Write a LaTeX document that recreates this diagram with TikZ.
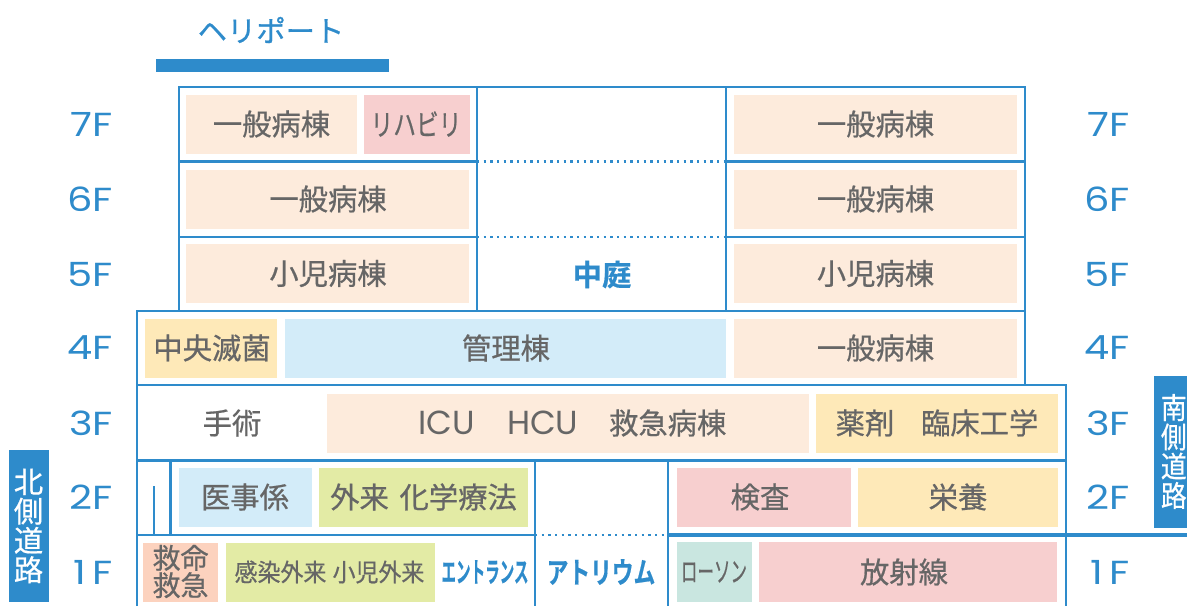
\documentclass[tikz,border=0pt]{standalone}
\usepackage{fontspec}
\usepackage{graphicx}
\setmainfont[FakeBold=0.6,BoldFont={Noto Sans CJK JP Bold}]{Noto Sans CJK JP}
\newfontfamily\latinf{Poppins}
\definecolor{line}{HTML}{2E8BCB}
\definecolor{ink}{HTML}{666666}
\definecolor{peach}{HTML}{FDEBDC}
\definecolor{pinkr}{HTML}{F7CFCF}
\definecolor{yellowr}{HTML}{FEE9B8}
\definecolor{bluer}{HTML}{D3ECF9}
\definecolor{greenr}{HTML}{E3EBA5}
\definecolor{oranger}{HTML}{FCD2BE}
\definecolor{tealr}{HTML}{C9E6E0}
\tikzset{
  wall/.style={draw=line,line width=1.75pt},
  thickwall/.style={draw=line,line width=3pt},
  dotwall/.style={draw=line,line width=1.75pt,dash pattern=on 1.8pt off 3.2pt},
  roomtext/.style={text=ink,font=\fontsize{22}{24}\selectfont,inner sep=0pt,anchor=center},
  floor/.style={text=line,font=\fontsize{25}{26}\selectfont\latinf,inner sep=0pt},
  bluetext/.style={text=line,inner sep=0pt},
  road/.style={text=white,align=center,inner sep=0pt,font=\fontsize{22}{22}\selectfont},
}
\begin{document}
\begin{tikzpicture}[x=0.75pt,y=-0.75pt]
\clip (0,0) rectangle (1187,606);
\fill[white] (0,0) rectangle (1187,606);
% room fills
\fill[peach] (186,95) rectangle (357,154);
\fill[pinkr] (364,95) rectangle (470,154);
\fill[peach] (734,95) rectangle (1017,154);
\fill[peach] (186,170) rectangle (469,229);
\fill[peach] (734,170) rectangle (1017,229);
\fill[peach] (186,244) rectangle (469,303);
\fill[peach] (734,244) rectangle (1017,303);
\fill[yellowr] (145,319) rectangle (277,378);
\fill[bluer] (285,319) rectangle (726,378);
\fill[peach] (734,319) rectangle (1017,378);
\fill[peach] (327,394) rectangle (809,453);
\fill[yellowr] (816,394) rectangle (1058,453);
\fill[bluer] (179,468) rectangle (312,527);
\fill[greenr] (319,468) rectangle (528,527);
\fill[pinkr] (677,468) rectangle (851,527);
\fill[yellowr] (858,468) rectangle (1058,527);
\fill[oranger] (143,543) rectangle (218,602);
\fill[greenr] (226,543) rectangle (435,602);
\fill[tealr] (677,542) rectangle (752,602);
\fill[pinkr] (759,542) rectangle (1057,602);
% heliport bar and roads
\fill[line] (156,59) rectangle (389,72);
\fill[line] (9,450) rectangle (49,602);
\fill[line] (1154,376) rectangle (1187,528);
\node[road] (north) at (28.5,526) {北\\側\\道\\路};
\node[road] (south) at (1173.8,451.5) {\scalebox{.88}[1]{南}\\\scalebox{.88}[1]{側}\\\scalebox{.88}[1]{道}\\\scalebox{.88}[1]{路}};
% walls
\draw[wall] (179,311) -- (179,87) -- (1025,87) -- (1025,385);
\draw[wall] (179,161.5) -- (477,161.5) (726,161.5) -- (1025,161.5);
\draw[wall] (179,237) -- (477,237) (726,237) -- (1025,237);
\draw[wall] (477,87) -- (477,311) (726,87) -- (726,311);
\draw[wall] (137,606) -- (137,311) -- (1025,311);
\draw[wall] (137,385) -- (1066,385) -- (1066,606);
\draw[wall] (137,460.5) -- (1066,460.5);
\draw[wall] (170.5,460.5) -- (170.5,535) (154,486) -- (154,535);
\draw[wall] (535,460.5) -- (535,606) (668,460.5) -- (668,606);
\draw[wall] (137,535) -- (535,535);
\draw[thickwall] (668,535) -- (1187,535);
\draw[dotwall] (477,161.5) -- (726,161.5);
\draw[dotwall] (477,237) -- (726,237);
\draw[dotwall] (535,535) -- (668,535);
% floor labels
\foreach \t/\y in {7F/124,6F/199,5F/274,4F/348,3F/423,2F/497}{
  \node[floor,anchor=east] (l\t) at (113,\y) {\scalebox{1.2}[1]{\t}};
  \node[floor,anchor=east] (r\t) at (1130,\y) {\scalebox{1.2}[1]{\t}};
}
\node[floor,anchor=east] (l1F) at (113,572) {\scalebox{1.2}[1]{1\hspace{4pt}F}};
\node[floor,anchor=east] (r1F) at (1130,572) {\scalebox{1.2}[1]{1\hspace{4pt}F}};
% room texts
\node[bluetext,font=\fontsize{22}{24}\selectfont] (heli) at (271,30) {ヘリポート};
\node[roomtext] (a7) at (271.5,124) {一般病棟};
\node[roomtext] (b7) at (416,124) {\scalebox{.775}[1]{リハビリ}};
\node[roomtext] (c7) at (875.5,124) {一般病棟};
\node[roomtext] (a6) at (328,199) {一般病棟};
\node[roomtext] (c6) at (875.5,199) {一般病棟};
\node[roomtext] (a5) at (328,273.5) {小児病棟};
\node[bluetext,font=\fontsize{22}{24}\bfseries] (court) at (602,274.5) {中庭};
\node[roomtext] (c5) at (875.5,273.5) {小児病棟};
\node[roomtext] (a4) at (212,348) {中央滅菌};
\node[roomtext] (b4) at (506,348) {管理棟};
\node[roomtext] (c4) at (875.5,348) {一般病棟};
\node[roomtext] (a3) at (232,423) {手術};
\node[roomtext] (b3) at (572.5,423) {{\fontsize{25}{26}\selectfont\latinf ICU\hspace{24pt}HCU}\hspace{23pt}救急病棟};
\node[roomtext] (c3) at (937,423) {薬剤\hspace{20pt}臨床工学};
\node[roomtext] (a2) at (245,497) {医事係};
\node[roomtext] (b2) at (423.5,497) {外来\hspace{8pt}化学療法};
\node[roomtext] (c2) at (760,497) {検査};
\node[roomtext] (d2) at (958,497) {栄養};
\node[roomtext,align=center,font=\fontsize{21}{20.5}\selectfont] (a1) at (180.5,571.5) {救命\\救急};
\node[roomtext,font=\fontsize{18.5}{24}\selectfont] (b1) at (329.5,572) {\scalebox{.93}[1]{感染外来\hspace{5pt}小児外来}};
\node[bluetext,font=\fontsize{21}{24}\bfseries] (entr) at (485,572) {\scalebox{.52}[1]{エントランス}};
\node[bluetext,font=\fontsize{22}{24}\bfseries] (atr) at (601,572) {\scalebox{.74}[1]{アトリウム}};
\node[roomtext,font=\fontsize{21}{24}\selectfont] (d1) at (714,572) {\scalebox{.59}[1]{ローソン}};
\node[roomtext] (e1) at (904,572) {放射線};
\end{tikzpicture}
\end{document}
